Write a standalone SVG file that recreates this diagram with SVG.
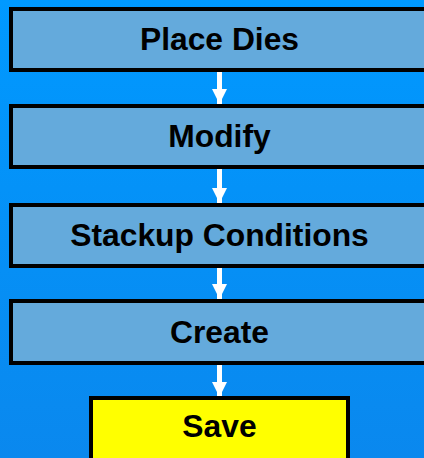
<svg xmlns="http://www.w3.org/2000/svg" width="424" height="458" viewBox="0 0 424 458">
  <defs>
    <linearGradient id="bg" x1="0" y1="0" x2="0" y2="1">
      <stop offset="0" stop-color="#0099FF"/>
      <stop offset="1" stop-color="#0A88EE"/>
    </linearGradient>
    <marker id="head" viewBox="0 0 15 15" refX="15" refY="7.5" markerWidth="15" markerHeight="15" markerUnits="userSpaceOnUse" orient="auto">
      <path d="M0,0 L15,7.5 L0,15 Z" fill="#FFFFFF"/>
    </marker>
  </defs>
  <style>
    .step { fill: #64AADC; stroke: #000000; stroke-width: 4; }
    .final { fill: #FFFF00; stroke: #000000; stroke-width: 4; }
    .label { font-family: "Liberation Sans", Arial, sans-serif; font-weight: bold; font-size: 31.8px; fill: #000000; text-anchor: middle; }
    .flow { stroke: #FFFFFF; stroke-width: 5; fill: none; marker-end: url(#head); }
  </style>
  <rect x="0" y="0" width="424" height="458" fill="url(#bg)"/>

  <g id="connectors">
    <line class="flow" x1="219.5" y1="72" x2="219.5" y2="104"/>
    <line class="flow" x1="219.5" y1="169" x2="219.5" y2="203"/>
    <line class="flow" x1="219.5" y1="268" x2="219.5" y2="299"/>
    <line class="flow" x1="219.5" y1="365" x2="219.5" y2="397"/>
  </g>

  <g id="place-dies">
    <rect class="step" x="11" y="9" width="440" height="61"/>
    <text class="label" x="219.5" y="50">Place Dies</text>
  </g>
  <g id="modify">
    <rect class="step" x="11" y="106" width="440" height="61"/>
    <text class="label" x="219.5" y="147">Modify</text>
  </g>
  <g id="stackup-conditions">
    <rect class="step" x="11" y="205" width="440" height="61"/>
    <text class="label" x="219.5" y="246">Stackup Conditions</text>
  </g>
  <g id="create">
    <rect class="step" x="11" y="301" width="440" height="62"/>
    <text class="label" x="219.5" y="343">Create</text>
  </g>
  <g id="save">
    <rect class="final" x="91" y="398" width="257" height="66"/>
    <text class="label" x="219.5" y="437">Save</text>
  </g>
</svg>
